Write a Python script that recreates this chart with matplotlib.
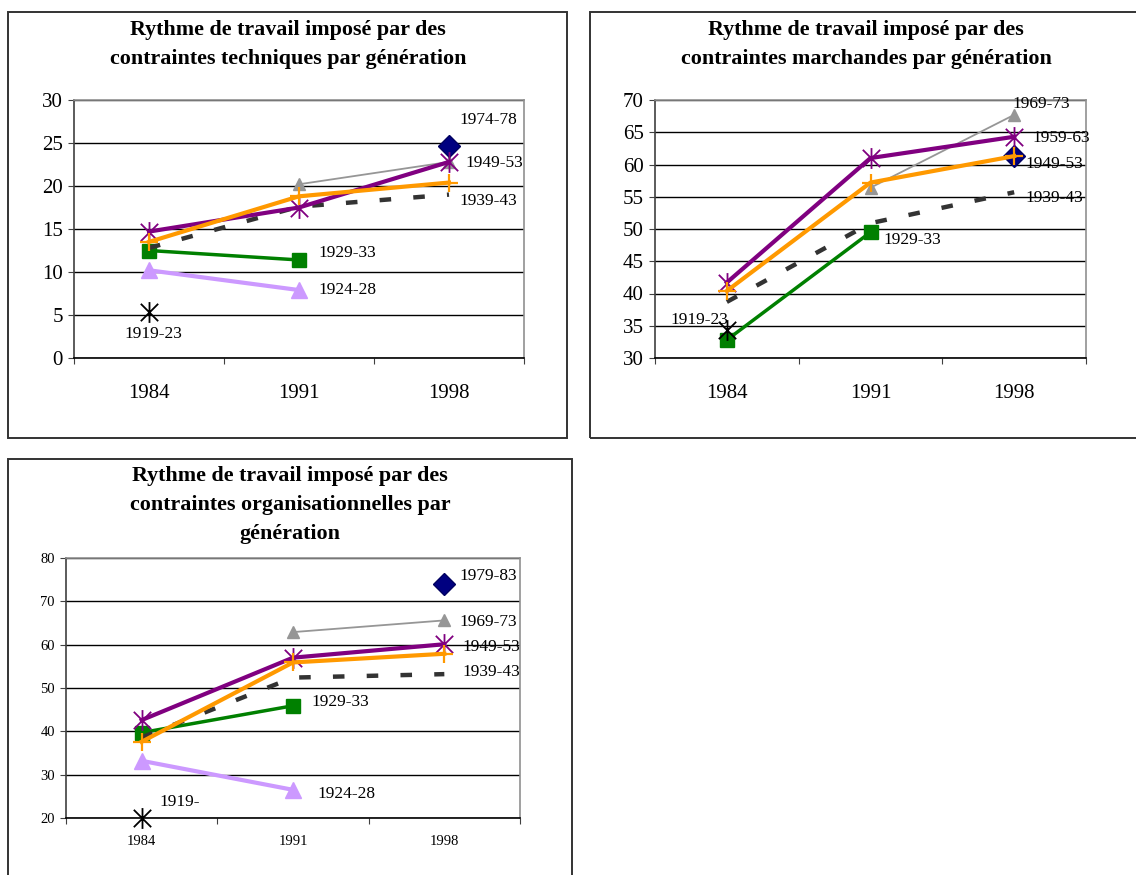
import matplotlib.pyplot as plt
import numpy as np
from matplotlib.path import Path
from matplotlib.patches import Rectangle

plt.rcParams['font.family'] = 'Liberation Serif'

nan = np.nan
annees = ['1984', '1991', '1998']

# contraintes techniques
tech_1919 = [5.3, nan, nan]
tech_1924 = [10.2, 7.9, nan]
tech_1929 = [12.5, 11.4, nan]
tech_1939 = [12.8, 17.6, 19.0]
tech_1949 = [13.5, 18.8, 20.4]
tech_1959 = [14.7, 17.5, 22.8]
tech_1969 = [nan, 20.2, 22.8]
tech_1974 = [nan, nan, 24.6]

# contraintes marchandes
march_1919 = [34.3, nan, nan]
march_1929 = [32.8, 49.5, nan]
march_1939 = [38.7, 50.9, 55.7]
march_1949 = [40.4, 57.2, 61.3]
march_1959 = [41.7, 61.0, 64.3]
march_1969 = [nan, 56.4, 67.7]
march_1974 = [nan, nan, 61.3]

# contraintes organisationnelles
org_1919 = [20.0, nan, nan]
org_1924 = [33.2, 26.5, nan]
org_1929 = [39.7, 45.9, nan]
org_1939 = [38.6, 52.4, 53.2]
org_1949 = [37.6, 55.9, 57.9]
org_1959 = [42.6, 57.0, 60.1]
org_1969 = [nan, 62.9, 65.6]
org_1979 = [nan, nan, 74.0]

# etoile type excel : une croix + un trait vertical
etoile = Path([(-1, -1), (1, 1), (-1, 1), (1, -1), (0, -1.2), (0, 1.2)],
              [Path.MOVETO, Path.LINETO, Path.MOVETO, Path.LINETO, Path.MOVETO, Path.LINETO])

styles = {
    '1919': dict(color='black', marker=etoile, ms=15, lw=1, mfc='none', mew=1.3),
    '1924': dict(color='#CC99FF', marker='^', ms=11, lw=3),
    '1929': dict(color='#008000', marker='s', ms=10, lw=2.5),
    '1939': dict(color='#333333', ls=(0, (2.6, 5.0)), lw=3.2),
    '1959': dict(color='#800080', marker=etoile, ms=15, lw=3, mfc='none', mew=1.3),
    '1969': dict(color='#969696', marker='^', ms=9, lw=1.3),
    '1974': dict(color='#000080', marker='D', ms=11, lw=0, mec='#000060'),
    '1949': dict(color='#FF9900', marker='+', ms=13, lw=3, mew=1.6),
}
ordre = ['1924', '1929', '1939', '1969', '1974', '1959', '1949', '1919']

W, H = 1136, 875
fig = plt.figure(figsize=(W / 100, H / 100), dpi=100)


def cadre(x0, y0, x1, y1):
    fig.patches.append(Rectangle((x0 / W, 1 - y1 / H), (x1 - x0) / W, (y1 - y0) / H,
                                 transform=fig.transFigure, fill=False,
                                 ec='#333333', lw=1.4))


def titre(x, y, txt):
    fig.text(x / W, 1 - y / H, txt, ha='center', va='center', fontsize=15.8, fontweight='bold')


def graphique(rect, series, ymin, ymax, pas, taille_ticks, pad_x):
    left, top, right, bottom = rect
    ax = fig.add_axes([left / W, 1 - bottom / H, (right - left) / W, (bottom - top) / H])
    x = np.arange(3)
    for cle in ordre:
        if cle in series:
            ax.plot(x, series[cle], clip_on=False, zorder=3, **styles[cle])
    ax.set_xlim(-0.5, 2.5)
    ax.set_ylim(ymin, ymax)
    ax.set_yticks(np.arange(ymin, ymax + 1, pas))
    ax.set_xticks([-0.5, 0.5, 1.5, 2.5])
    ax.set_xticklabels([])
    ax.set_xticks(x, minor=True)
    ax.set_xticklabels(annees, minor=True, fontsize=taille_ticks)
    ax.tick_params(axis='x', which='minor', length=0, pad=pad_x)
    ax.tick_params(axis='both', which='major', direction='out', length=4,
                   color='#404040', labelsize=taille_ticks, pad=4)
    ax.yaxis.grid(True, color='black', lw=1)
    ax.set_axisbelow(True)
    for s in ['top', 'right']:
        ax.spines[s].set_color('#909090')
        ax.spines[s].set_linewidth(1.2)
    ax.spines['left'].set_color('#404040')
    ax.spines['bottom'].set_color('black')
    ax.spines['left'].set_linewidth(1.2)
    ax.spines['bottom'].set_linewidth(1.2)
    return ax


def etiquettes(ax, textes):
    for txt, xx, yy, ha in textes:
        ax.text(xx, yy, txt, ha=ha, va='center', fontsize=12.5, zorder=5)


# cadres
cadre(8, 12, 567, 438)
cadre(590, 12, 1145, 438)
cadre(8, 459, 572, 890)

# titres
titre(288, 30, 'Rythme de travail imposé par des')
titre(288, 59, 'contraintes techniques par génération')
titre(866, 30, 'Rythme de travail imposé par des')
titre(866, 59, 'contraintes marchandes par génération')
titre(290, 476, 'Rythme de travail imposé par des')
titre(290, 505, 'contraintes organisationnelles par')
titre(290, 534, 'génération')

ax1 = graphique((74, 100, 524, 358),
                {'1919': tech_1919, '1924': tech_1924, '1929': tech_1929, '1939': tech_1939,
                 '1949': tech_1949, '1959': tech_1959, '1969': tech_1969, '1974': tech_1974},
                0, 30, 5, 15, 19)
etiquettes(ax1, [('1974-78', 2.07, 27.7, 'left'), ('1949-53', 2.11, 22.7, 'left'),
                 ('1939-43', 2.07, 18.2, 'left'), ('1929-33', 1.13, 12.2, 'left'),
                 ('1924-28', 1.13, 7.9, 'left'), ('1919-23', 0.03, 2.8, 'center')])

ax2 = graphique((655, 100, 1086, 358),
                {'1919': march_1919, '1929': march_1929, '1939': march_1939,
                 '1949': march_1949, '1959': march_1959, '1969': march_1969, '1974': march_1974},
                30, 70, 5, 15, 19)
etiquettes(ax2, [('1969-73', 1.99, 69.4, 'left'), ('1959-63', 2.13, 64.1, 'left'),
                 ('1949-53', 2.08, 60.1, 'left'), ('1939-43', 2.08, 54.8, 'left'),
                 ('1929-33', 1.09, 48.3, 'left'), ('1919-23', -0.39, 35.9, 'left')])

ax3 = graphique((66, 558, 520, 818),
                {'1919': org_1919, '1924': org_1924, '1929': org_1929, '1939': org_1939,
                 '1949': org_1949, '1959': org_1959, '1969': org_1969, '1974': org_1979},
                20, 80, 10, 10.5, 12)
etiquettes(ax3, [('1979-83', 2.10, 75.8, 'left'), ('1969-73', 2.10, 65.3, 'left'),
                 ('1949-53', 2.12, 59.5, 'left'), ('1939-43', 2.12, 53.6, 'left'),
                 ('1929-33', 1.12, 46.8, 'left'), ('1924-28', 1.16, 25.5, 'left'),
                 ('1919-', 0.115, 23.6, 'left')])

fig.savefig('out.png', dpi=100)
